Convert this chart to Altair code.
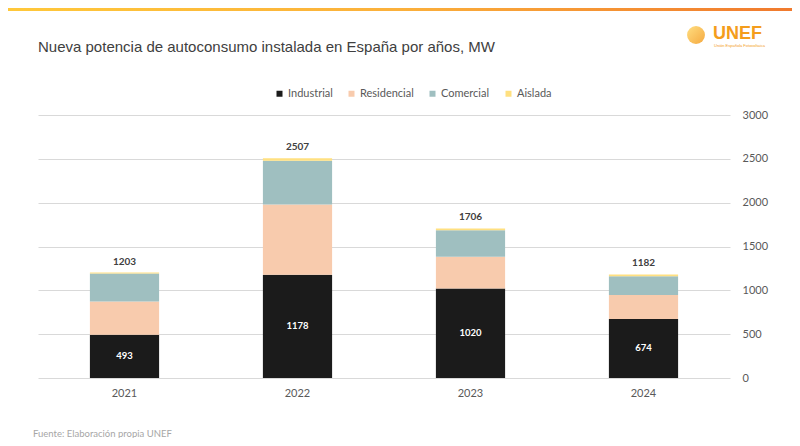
import altair as alt
import pandas as pd

years = ["2021", "2022", "2023", "2024"]
categories = ["Industrial", "Residencial", "Comercial", "Aislada"]
industrial = [493, 1178, 1020, 674]
residencial = [380, 800, 363, 272]
comercial = [320, 500, 303, 216]
aislada = [10, 29, 20, 20]
totals = [1203, 2507, 1706, 1182]
y_ticks = [0, 500, 1000, 1500, 2000, 2500, 3000]
colors = ["#1b1b1b", "#f8cbad", "#9fbfc0", "#ffe080"]

title_text = "Nueva potencia de autoconsumo instalada en España por años, MW"
source_text = "Fuente: Elaboración propia UNEF"

rows = []
series = [industrial, residencial, comercial, aislada]
for i, yr in enumerate(years):
    for j, c in enumerate(categories):
        rows.append({"year": yr, "cat": c, "order": j, "value": series[j][i]})
df = pd.DataFrame(rows)
tot_df = pd.DataFrame({"year": years, "total": totals})
ind_df = pd.DataFrame({"year": years, "value": industrial})

FONT = "Lato"
GREY = "#595959"

x_enc = alt.X(
    "year:N",
    sort=years,
    scale=alt.Scale(paddingInner=0.6, paddingOuter=0.3),
    axis=alt.Axis(title=None, labelAngle=0, ticks=False, domain=False,
                  labelPadding=9, labelFontSize=11, labelColor=GREY, labelFont=FONT),
)
y_scale = alt.Scale(domain=[0, 3000], nice=False)

bars = alt.Chart(df).mark_bar().encode(
    x=x_enc,
    y=alt.Y("sum(value):Q", scale=y_scale,
            axis=alt.Axis(orient="right", title=None, values=y_ticks, format="d",
                          grid=True, gridColor="#d9d9d9", gridWidth=1, domain=False,
                          ticks=False, labelPadding=12, labelFontSize=11,
                          labelColor=GREY, labelFont=FONT)),
    color=alt.Color("cat:N", scale=alt.Scale(domain=categories, range=colors),
                    legend=alt.Legend(orient="none", legendX=236, legendY=-27,
                                      direction="horizontal", title=None,
                                      symbolType="square", symbolSize=36,
                                      symbolStrokeWidth=0, labelFontSize=11,
                                      labelColor=GREY, labelFont=FONT,
                                      labelOffset=3, columnPadding=13, padding=0)),
    order=alt.Order("order:Q", sort="ascending"),
)

total_labels = alt.Chart(tot_df).mark_text(
    dy=-11, fontSize=10, fontWeight="bold", color="#404040", font=FONT
).encode(x=alt.X("year:N", sort=years), y=alt.Y("total:Q", scale=y_scale),
         text="total:Q")

ind_labels = alt.Chart(ind_df).transform_calculate(mid="datum.value / 2").mark_text(
    fontSize=9.5, fontWeight="bold", color="white", font=FONT
).encode(x=alt.X("year:N", sort=years), y=alt.Y("mid:Q", scale=y_scale),
         text="value:Q")

one = pd.DataFrame({"t": [title_text]})
title = alt.Chart(one).mark_text(
    align="left", baseline="middle", fontSize=15, font="Liberation Sans",
    color="#404040").encode(x=alt.value(0), y=alt.value(-68), text="t:N")

src = alt.Chart(pd.DataFrame({"t": [source_text]})).mark_text(
    align="left", baseline="middle", fontSize=9.5, font=FONT,
    color="#a6a6a6").encode(x=alt.value(-5), y=alt.value(319), text="t:N")

logo = alt.Chart(pd.DataFrame({"t": ["UNEF"]})).mark_text(
    align="left", baseline="alphabetic", fontSize=18, fontWeight="bold",
    font="Liberation Sans", color="#f49d1c").encode(
    x=alt.value(675), y=alt.value(-76), text="t:N")

logo_sub = alt.Chart(pd.DataFrame({"t": ["Unión Española Fotovoltaica"]})).mark_text(
    align="left", baseline="middle", fontSize=4, font="Liberation Sans",
    color="#f49d1c").encode(x=alt.value(676), y=alt.value(-69), text="t:N")

sun = alt.Chart(pd.DataFrame({"t": ["sun"]})).mark_point(
    shape="circle", filled=True, size=320, opacity=0.85,
    color=alt.Gradient(gradient="linear",
                       stops=[alt.GradientStop(color="#ffd86a", offset=0),
                              alt.GradientStop(color="#f39a1e", offset=1)],
                       x1=0, x2=1, y1=0, y2=1)).encode(
    x=alt.value(658), y=alt.value(-80))

topbar = alt.Chart(pd.DataFrame({"t": ["bar"]})).mark_rect(
    color=alt.Gradient(gradient="linear",
                       stops=[alt.GradientStop(color="#ffc83a", offset=0),
                              alt.GradientStop(color="#fbb03b", offset=0.5),
                              alt.GradientStop(color="#f07a2e", offset=1)],
                       x1=0, x2=1, y1=0, y2=0)).encode(
    x=alt.value(-30), x2=alt.value(754), y=alt.value(-107), y2=alt.value(-104))

chart = alt.layer(bars, total_labels, ind_labels, title, src, logo, logo_sub, sun, topbar).properties(
    width=692, height=263,
    padding={"left": 30, "top": 107, "right": 62, "bottom": 60},
    autosize=alt.AutoSizeParams(type="none"),
).configure_view(stroke=None)

chart.save("out.html", embed_options={"renderer": "svg", "actions": False})
